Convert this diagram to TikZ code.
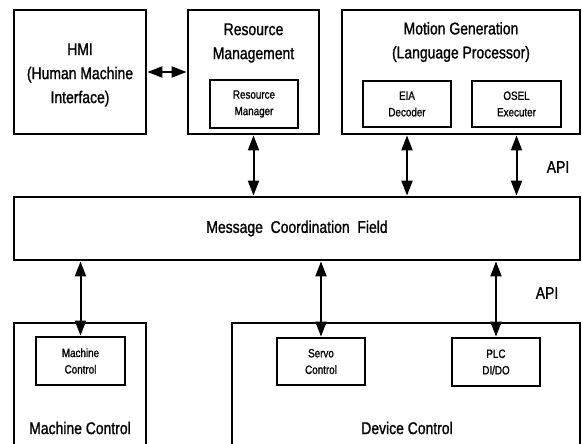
\documentclass[tikz,border=0pt]{standalone}
\usepackage{fontspec}
\setmainfont{Liberation Sans}[FakeStretch=0.82, FakeBold=1.2]
\usetikzlibrary{arrows.meta}
\tikzset{
  box/.style={draw, line width=1.8pt, inner sep=0pt, align=center},
  big/.style={font=\fontsize{17}{24}\selectfont, align=center, inner sep=0pt},
  small/.style={font=\fontsize{12}{16.5}\selectfont},
  link/.style={line width=2pt, {Triangle[length=15pt,width=11pt]}-{Triangle[length=15pt,width=11pt]}, shorten <=0.5pt, shorten >=0.5pt}
}
\begin{document}
\begin{tikzpicture}[x=1pt,y=-1pt]
\useasboundingbox (0,0) rectangle (582,444);
\clip (0,0) rectangle (582,444);
% top row
\node[box, minimum width=132pt, minimum height=124pt] (hmi) at (80,72) {};
\node[big] (hmit) at (80,75) {HMI\\(Human Machine\\Interface)};
\node[box, minimum width=131pt, minimum height=124pt] (rm) at (253.5,72) {};
\node[big] (rmt) at (253.5,43) {Resource\\Management};
\node[box, small, minimum width=88pt, minimum height=48pt] (rmi) at (254,104) {Resource\\Manager};
\node[box, minimum width=238pt, minimum height=124pt] (mg) at (461,72) {};
\node[big] (mgt) at (461,42) {Motion Generation\\(Language Processor)};
\node[box, small, minimum width=88pt, minimum height=46pt] (eia) at (407,104) {EIA\\Decoder};
\node[box, small, minimum width=89pt, minimum height=46pt] (osel) at (516.5,104) {OSEL\\Executer};
% middle
\node[box, big, minimum width=566pt, minimum height=63pt] (mcf) at (297,228.5) {Message\ \ Coordination\ \ Field};
\node[big] (api1) at (558,167) {API};
\node[big] (api2) at (547,293) {API};
% bottom row
\node[box, minimum width=132pt, minimum height=137pt] (mc) at (80,391.5) {};
\node[box, small, minimum width=89pt, minimum height=48pt] (mci) at (80.5,361) {Machine\\Control};
\node[big] (mcl) at (80,428) {Machine Control};
\node[box, minimum width=348pt, minimum height=137pt] (dc) at (406,391.5) {};
\node[box, small, minimum width=88pt, minimum height=47pt] (servo) at (321,361.5) {Servo\\Control};
\node[box, small, minimum width=88pt, minimum height=48pt] (plc) at (496,362) {PLC\\DI/DO};
\node[big] (dcl) at (407,428) {Device Control};
% connectors
\draw[link] (hmi.east) -- (rm.west);
\draw[link] (rm.south) -- (rm.south |- mcf.north);
\draw[link] (eia.south |- mg.south) -- (eia.south |- mcf.north);
\draw[link] (osel.south |- mg.south) -- (osel.south |- mcf.north);
\draw[link] (mci.north |- mcf.south) -- (mci.north);
\draw[link] (servo.north |- mcf.south) -- (servo.north);
\draw[link] (plc.north |- mcf.south) -- (plc.north);
\end{tikzpicture}
\end{document}
